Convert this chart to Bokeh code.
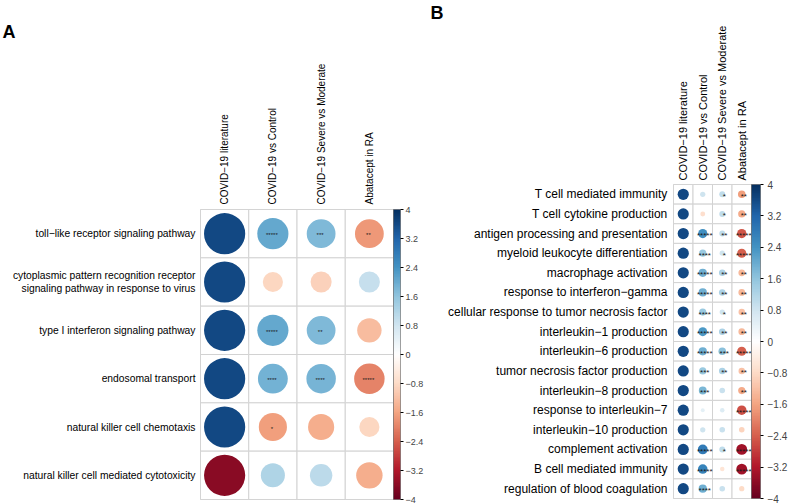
import numpy as np
from bokeh.plotting import figure
from bokeh.models import (ColumnDataSource, LinearColorMapper, ColorBar, FixedTicker,
                          FactorRange, Range1d, Title)
from bokeh.transform import transform
from bokeh.layouts import row, column
from bokeh.embed import file_html
from bokeh.resources import INLINE
from bokeh.core.properties import value

# ---------------- data ----------------
columns = ["COVID−19 literature", "COVID−19 vs Control",
           "COVID−19 Severe vs Moderate", "Abatacept in RA"]

# Panel A
a_terms = ["toll−like receptor signaling pathway",
           "cytoplasmic pattern recognition receptor signaling pathway in response to virus",
           "type I interferon signaling pathway",
           "endosomal transport",
           "natural killer cell chemotaxis",
           "natural killer cell mediated cytotoxicity"]
a_wrapped = {"cytoplasmic pattern recognition receptor signaling pathway in response to virus":
             ["cytoplasmic pattern recognition receptor", "signaling pathway in response to virus"]}
a_literature = [3.6, 3.6, 3.6, 3.6, 3.6, -3.6]
a_vs_control = [2.06, -0.86, 2.06, 1.89, -1.68, 1.23]
a_severe = [1.76, -0.94, 1.76, 1.84, -1.45, 1.07]
a_abatacept = [-1.76, 0.94, -1.26, -1.97, -0.86, -1.48]
a_sig_literature = ["", "", "", "", "", ""]
a_sig_control = ["*****", "", "*****", "****", "*", ""]
a_sig_severe = ["***", "", "**", "****", "", ""]
a_sig_abatacept = ["**", "", "", "*****", "", ""]

# Panel B
b_terms = ["T cell mediated immunity", "T cell cytokine production",
           "antigen processing and presentation", "myeloid leukocyte differentiation",
           "macrophage activation", "response to interferon−gamma",
           "cellular response to tumor necrosis factor", "interleukin−1 production",
           "interleukin−6 production", "tumor necrosis factor production",
           "interleukin−8 production", "response to interleukin−7",
           "interleukin−10 production", "complement activation",
           "B cell mediated immunity", "regulation of blood coagulation"]
b_literature = [3.6] * 16
b_vs_control = [0.8, -0.7, 2.45, 1.5, 1.95, 1.95, 1.5, 2.3, 1.95, 1.5, 1.8, 0.45, 0.8, 2.8, 2.65, 1.95]
b_severe = [1.0, 1.0, 1.0, 0.8, 1.25, 1.25, 0.8, 1.25, 1.67, 1.25, 0.9, 0.6, 0.9, 1.0, -0.6, 0.9]
b_abatacept = [-1.67, -1.5, -2.5, -2.4, -1.3, -1.3, -1.2, -1.3, -2.4, -1.2, -1.5, -2.6, -0.9, -3.4, -3.4, -0.8]
b_sig_literature = [""] * 16
b_sig_control = ["", "", "*****", "****", "*****", "*****", "****", "*****",
                 "*****", "***", "***", "", "", "*****", "*****", "****"]
b_sig_severe = ["*", "*", "**", "*", "**", "**", "*", "**",
                "***", "**", "", "", "", "*", "", ""]
b_sig_abatacept = ["**", "**", "*****", "*****", "**", "**", "**", "**",
                   "*****", "**", "**", "*****", "", "*****", "*****", ""]

ticks = [-4, -3.2, -2.4, -1.6, -0.8, 0, 0.8, 1.6, 2.4, 3.2, 4]
tick_labels = ["−4", "−3.2", "−2.4", "−1.6", "−0.8", "0", "0.8", "1.6", "2.4", "3.2", "4"]

# ---------------- styling ----------------
anchors = ["#67001F", "#B2182B", "#D6604D", "#F4A582", "#FDDBC7", "#FFFFFF",
           "#D1E5F0", "#92C5DE", "#4393C3", "#2166AC", "#053061"]


def hex2rgb(h):
    return [int(h[i:i + 2], 16) for i in (1, 3, 5)]


rgb = np.array([hex2rgb(h) for h in anchors], dtype=float)
pos = np.linspace(0, 1, len(anchors))
tt = np.linspace(0, 1, 200)
palette = ["#%02x%02x%02x" % tuple(int(round(np.interp(t, pos, rgb[:, k]))) for k in range(3)) for t in tt]
mapper = LinearColorMapper(palette=palette, low=-4, high=4)

FONT = "Liberation Sans"


def long_table(terms, series, sigs, cell, k):
    n = len(terms)
    xs, ys, vals, stars, sizes = [], [], [], [], []
    for c, vc, sc in zip(columns, series, sigs):
        for i, (v, s) in enumerate(zip(vc, sc)):
            xs.append(c)
            ys.append(n - 1 - i + 0.5)   # row position (first term on top)
            vals.append(v)
            stars.append(s)
            sizes.append(k * cell * np.sqrt(abs(v) / 4.0))
    return ColumnDataSource(dict(x=xs, y=ys, val=vals, sig=stars, size=sizes))


def panel(terms, series, sigs, letter, cell, k, bl, bt, br, bb,
          row_font, col_font, bar_w, cb_font, star_font, star_dx, star_dy,
          wrapped=None, row_standoff=5, col_standoff=5, cb_margin=2, cb_standoff=3,
          letter_offset=0, letter_standoff=10):
    wrapped = wrapped or {}
    n = len(terms)
    fw, fh = int(round(cell * 4)), int(round(cell * n))
    p = figure(x_range=FactorRange(*columns), y_range=Range1d(0, n),
               frame_width=fw, frame_height=fh,
               x_axis_location="above", y_axis_location="left",
               output_backend="svg", toolbar_location=None,
               min_border_left=bl, min_border_top=bt, min_border_right=br, min_border_bottom=bb)
    p.grid.visible = False
    p.outline_line_color = "#c8c8c8"

    # row labels on the y axis (allows 2-line labels)
    tpos, over = [], {}
    for i, t in enumerate(terms):
        c = n - 1 - i + 0.5
        if t in wrapped:
            for j, line in enumerate(wrapped[t]):
                yy = round(c + 0.13 - 0.26 * j, 4)
                tpos.append(yy)
                over[yy] = line
        else:
            tpos.append(c)
            over[c] = t
    yax = p.yaxis[0]
    yax.ticker = FixedTicker(ticks=tpos)
    yax.major_label_overrides = over

    for ax in (p.xaxis[0], yax):
        ax.axis_line_color = None
        ax.major_tick_line_color = None
        ax.minor_tick_line_color = None
        ax.major_tick_out = 0
        ax.major_tick_in = 0
        ax.major_label_text_font = FONT
        ax.major_label_text_color = "black"
    p.xaxis.major_label_orientation = "vertical"
    p.xaxis.major_label_text_font_size = col_font
    p.xaxis.major_label_standoff = col_standoff
    yax.major_label_text_font_size = row_font
    yax.major_label_standoff = row_standoff

    src = long_table(terms, series, sigs, cell, k)
    p.rect(x="x", y="y", width=1, height=1, source=src, fill_color="white",
           line_color="#d2d2d2", line_width=1)
    p.scatter(x="x", y="y", size="size", source=src, fill_color=transform("val", mapper),
              line_color=None)
    p.text(x="x", y="y", text="sig", source=src, text_font=value(FONT),
           text_font_size=star_font, text_align="center", text_baseline="middle",
           text_color="#1a1a1a", x_offset=star_dx, y_offset=star_dy)

    cb = ColorBar(color_mapper=mapper, ticker=FixedTicker(ticks=ticks), width=bar_w,
                  padding=0, margin=cb_margin,
                  major_label_overrides={t: l for t, l in zip(ticks, tick_labels)},
                  major_tick_in=0, major_tick_out=3, major_tick_line_color="black",
                  minor_tick_line_color=None, label_standoff=cb_standoff,
                  major_label_text_font=FONT, major_label_text_font_size=cb_font,
                  background_fill_color=None, border_line_color=None,
                  bar_line_color="#444444", bar_line_width=0.5)
    p.add_layout(cb, "right")

    p.add_layout(Title(text=letter, align="left", offset=letter_offset, standoff=letter_standoff,
                       text_font=FONT, text_font_style="bold", text_font_size="18px",
                       text_color="black"), "above")
    return p


pA = panel(a_terms, [a_literature, a_vs_control, a_severe, a_abatacept],
           [a_sig_literature, a_sig_control, a_sig_severe, a_sig_abatacept],
           "A", 48.25, 0.9, 200, 202, 35, 4, "10.3px", "10px", 7, "9px", "6px", -1, 1.5,
           wrapped=a_wrapped, cb_margin=3, cb_standoff=2, letter_offset=-198,
           letter_standoff=38)
pB = panel(b_terms, [b_literature, b_vs_control, b_severe, b_abatacept],
           [b_sig_literature, b_sig_control, b_sig_severe, b_sig_abatacept],
           "B", 19.6, 0.6, 245, 178, 38, 5, "12px", "11px", 9, "10px", "8px", 2, 2,
           row_standoff=6, col_standoff=4, cb_margin=2, cb_standoff=4, letter_offset=-243,
           letter_standoff=0)

# keep each panel's plotting frame where it is (no frame alignment across panels)
free = True
for p in (pA, pB):
    try:
        p.frame_align = False
    except Exception:
        free = False

layout = row(pA, pB) if free else row(pA, column(pB))
open("out.html", "w").write(file_html(layout, INLINE))
